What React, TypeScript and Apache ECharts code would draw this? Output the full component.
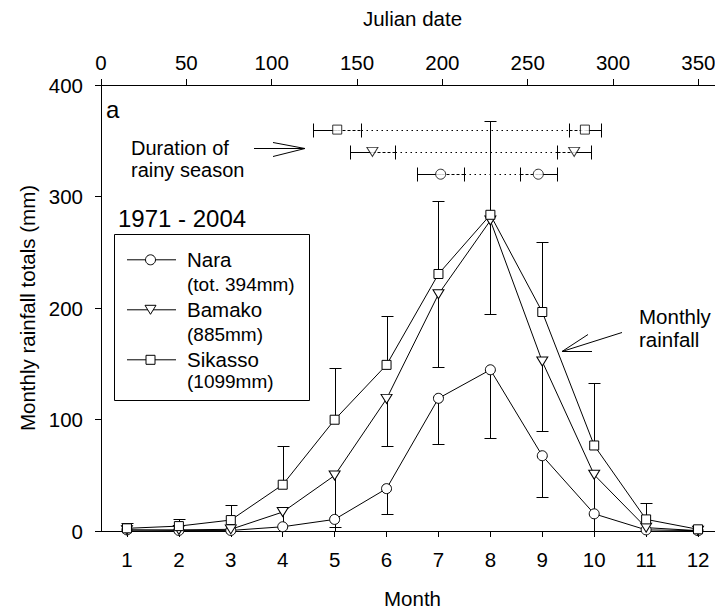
import React, { useEffect, useRef } from "react";
import * as echarts from "echarts";

// ---- data ----
const months = ["1", "2", "3", "4", "5", "6", "7", "8", "9", "10", "11", "12"];

const nara = [1, 0.5, 0.5, 3.8, 10.4, 38, 119, 144.6, 67.5, 15.4, 1, 0.3];
const naraLow = [null, null, null, -3, -4, 15, 78, 83, 30.5, -12, -2, null];

const bamako = [0.8, 1, 1.5, 17, 49.8, 118.5, 212.4, 278.5, 152, 50.4, 3, 0.3];
const bamakoLow = [null, null, -3, -5, 3.8, 75.8, 147, 195, 89.8, -8, -4, null];

const sikasso = [2.4, 4.4, 9.8, 41.5, 99.8, 149, 230.5, 283.6, 196.4, 76.7, 10.4, 1.5];
const sikassoHigh = [7.4, 11.2, 23.4, 75.8, 145.8, 192.6, 296.3, 367.7, 259, 133, 25, null];

// Rainy season duration (Julian dates)
const seasonNames = ["Sikasso", "Bamako", "Nara"];
const seasonLevel = [360, 340, 320];
const onsetMean = [138.4, 159, 199];
const onsetSd = [14.2, 13.3, 13.8];
const endMean = [283.5, 277.2, 256.2];
const endSd = [9.2, 10.1, 11];

const legendNames = ["Nara", "Bamako", "Sikasso"];
const legendTotals = ["(tot. 394mm)", "(885mm)", "(1099mm)"];
const periodLabel = "1971 - 2004";

const FONT = '"Liberation Sans", Arial, sans-serif';
const CHART_W = 724;
const CHART_H = 614;

function buildOption() {
  const errData: number[][] = [];
  const pushErr = (vals: number[], bounds: (number | null)[]) => {
    vals.forEach((v, i) => {
      const b = bounds[i];
      if (b !== null && b !== undefined) errData.push([i, v, b]);
    });
  };
  pushErr(nara, naraLow);
  pushErr(bamako, bamakoLow);
  pushErr(sikasso, sikassoHigh);

  const seasonData = seasonNames.map((_, i) => [
    onsetMean[i],
    onsetSd[i],
    endMean[i],
    endSd[i],
    seasonLevel[i],
  ]);

  const symbols: Record<string, { symbol: string; size: any; rotate: number }> = {
    Nara: { symbol: "circle", size: 10, rotate: 0 },
    Bamako: { symbol: "triangle", size: [11, 9], rotate: 180 },
    Sikasso: { symbol: "rect", size: 9, rotate: 0 },
  };

  const lineSeries = [
    { name: "Nara", data: nara },
    { name: "Bamako", data: bamako },
    { name: "Sikasso", data: sikasso },
  ].map((s) => ({
    type: "line",
    name: s.name,
    xAxisIndex: 0,
    yAxisIndex: 0,
    data: s.data,
    symbol: symbols[s.name].symbol,
    symbolSize: symbols[s.name].size,
    symbolRotate: symbols[s.name].rotate,
    showSymbol: true,
    showAllSymbol: true,
    lineStyle: { color: "#000", width: 1 },
    itemStyle: { color: "#fff", borderColor: "#000", borderWidth: 1 },
    emphasis: { disabled: true },
    silent: true,
    z: 3,
  }));

  const seasonMarkers = seasonNames.map((name, i) => ({
    type: "scatter",
    xAxisIndex: 1,
    yAxisIndex: 0,
    data: [
      [onsetMean[i], seasonLevel[i]],
      [endMean[i], seasonLevel[i]],
    ],
    symbol: symbols[name].symbol,
    symbolSize: symbols[name].size,
    symbolRotate: symbols[name].rotate,
    itemStyle: { color: "#fff", borderColor: "#000", borderWidth: 1 },
    emphasis: { disabled: true },
    silent: true,
    z: 4,
  }));

  const black = { stroke: "#000", lineWidth: 1 };

  const errSeries = {
    type: "custom",
    xAxisIndex: 0,
    yAxisIndex: 0,
    clip: true,
    silent: true,
    z: 1,
    data: errData,
    renderItem: (params: any, api: any) => {
      const x = api.value(0);
      const v = api.value(1);
      const b = api.value(2);
      const p1 = api.coord([x, v]);
      const p2 = api.coord([x, b]);
      const px = Math.round(p1[0]) + 0.5;
      const py = Math.round(p2[1]) + 0.5;
      return {
        type: "group",
        children: [
          { type: "line", shape: { x1: px, y1: p1[1], x2: px, y2: py }, style: black },
          { type: "line", shape: { x1: px - 6, y1: py, x2: px + 6, y2: py }, style: black },
        ],
      };
    },
  };

  const seasonSeries = {
    type: "custom",
    xAxisIndex: 1,
    yAxisIndex: 0,
    clip: true,
    silent: true,
    z: 2,
    encode: { x: [0, 2], y: 4 },
    data: seasonData,
    renderItem: (params: any, api: any) => {
      const o = api.value(0);
      const os = api.value(1);
      const e = api.value(2);
      const es = api.value(3);
      const y = api.value(4);
      const yy = Math.round(api.coord([o, y])[1]) + 0.5;
      const X = (d: number) => Math.round(api.coord([d, y])[0]) + 0.5;
      const a = X(o - os), b = X(o), c = X(o + os), d = X(e - es), f = X(e), g = X(e + es);
      const cap = (xx: number) => ({
        type: "line",
        shape: { x1: xx, y1: yy - 7, x2: xx, y2: yy + 7 },
        style: black,
      });
      return {
        type: "group",
        children: [
          { type: "line", shape: { x1: a, y1: yy, x2: b, y2: yy }, style: black },
          { type: "line", shape: { x1: b, y1: yy, x2: c, y2: yy }, style: { ...black, lineDash: [3, 2] } },
          { type: "line", shape: { x1: c, y1: yy, x2: d, y2: yy }, style: { ...black, lineDash: [1.5, 3.5] } },
          { type: "line", shape: { x1: d, y1: yy, x2: f, y2: yy }, style: { ...black, lineDash: [3, 2] } },
          { type: "line", shape: { x1: f, y1: yy, x2: g, y2: yy }, style: black },
          cap(a),
          cap(c),
          cap(d),
          cap(g),
        ],
      };
    },
  };

  const txt = (text: string, x: number, y: number, size: number, lineHeight?: number) => ({
    type: "text",
    x,
    y,
    silent: true,
    style: {
      text,
      fill: "#000",
      font: `${size}px ${FONT}`,
      lineHeight: lineHeight || size,
      textAlign: "left",
      textVerticalAlign: "middle",
      align: "left",
      verticalAlign: "middle",
    },
  });

  const legendRows = [259.3, 309.3, 359.3];
  const legendGraphics: any[] = [
    {
      type: "rect",
      silent: true,
      shape: { x: 114.5, y: 234.5, width: 195, height: 166 },
      style: { fill: "none", stroke: "#000", lineWidth: 1 },
    },
    txt(periodLabel, 118, 218, 24),
  ];
  legendNames.forEach((name, i) => {
    const cy = legendRows[i] + 0.5;
    legendGraphics.push({
      type: "line",
      silent: true,
      shape: { x1: 127, y1: cy, x2: 176, y2: cy },
      style: black,
    });
    if (name === "Nara") {
      legendGraphics.push({
        type: "circle",
        silent: true,
        shape: { cx: 150.5, cy, r: 5 },
        style: { fill: "#fff", stroke: "#000", lineWidth: 1 },
      });
    } else if (name === "Bamako") {
      legendGraphics.push({
        type: "polygon",
        silent: true,
        shape: { points: [[145, cy - 4.5], [156, cy - 4.5], [150.5, cy + 4.5]] },
        style: { fill: "#fff", stroke: "#000", lineWidth: 1 },
      });
    } else {
      legendGraphics.push({
        type: "rect",
        silent: true,
        shape: { x: 146, y: cy - 4.5, width: 9, height: 9 },
        style: { fill: "#fff", stroke: "#000", lineWidth: 1 },
      });
    }
    legendGraphics.push(txt(name, 187, legendRows[i], 20.5));
    legendGraphics.push(txt(legendTotals[i], 187, legendRows[i] + (i === 2 ? 22.5 : 25), 19));
  });

  const annotations: any[] = [
    txt("a", 106, 109, 24),
    txt("Duration of\nrainy season", 131, 159, 20, 22),
    {
      type: "line",
      silent: true,
      shape: { x1: 254, y1: 148.5, x2: 305, y2: 148.5 },
      style: black,
    },
    {
      type: "polyline",
      silent: true,
      shape: { points: [[273, 142.5], [305, 148.5], [273, 156.5]] },
      style: { ...black, fill: null },
    },
    txt("Monthly\nrainfall", 639, 327.5, 20.5, 23),
    {
      type: "line",
      silent: true,
      shape: { x1: 622, y1: 332.5, x2: 562, y2: 351.5 },
      style: black,
    },
    {
      type: "polyline",
      silent: true,
      shape: { points: [[588, 334.5], [562, 351.5], [592, 351.5]] },
      style: { ...black, fill: null },
    },
  ];

  const axisText = { color: "#000", fontSize: 20.5, fontFamily: FONT };

  return {
    animation: false,
    backgroundColor: "#fff",
    textStyle: { fontFamily: FONT, color: "#000" },
    grid: { left: 101, right: 0, top: 85, bottom: 79, containLabel: false },
    xAxis: [
      {
        type: "category",
        position: "bottom",
        data: months,
        boundaryGap: true,
        axisLine: { show: true, lineStyle: { color: "#000", width: 1 } },
        axisTick: { show: true, alignWithLabel: true, length: 6, inside: false, lineStyle: { color: "#000" } },
        axisLabel: { ...axisText, margin: 18, interval: 0 },
        splitLine: { show: false },
        name: "Month",
        nameLocation: "middle",
        nameGap: 57,
        nameTextStyle: { ...axisText },
      },
      {
        type: "value",
        position: "top",
        min: 0,
        max: 365,
        interval: 50,
        axisLine: { show: true, onZero: false, lineStyle: { color: "#000", width: 1 } },
        axisTick: { show: true, length: 6, inside: false, lineStyle: { color: "#000" } },
        axisLabel: {
          ...axisText,
          margin: 12,
          showMaxLabel: false,
          formatter: (v: number) => (v % 50 === 0 ? String(v) : ""),
        },
        splitLine: { show: false },
        name: "Julian date",
        nameLocation: "middle",
        nameGap: 56,
        nameTextStyle: { ...axisText },
      },
    ],
    yAxis: [
      {
        type: "value",
        min: 0,
        max: 400,
        interval: 100,
        axisLine: { show: true, onZero: false, lineStyle: { color: "#000", width: 1 } },
        axisTick: { show: true, length: 6, inside: false, lineStyle: { color: "#000" } },
        axisLabel: { ...axisText, margin: 18 },
        splitLine: { show: false },
        name: "Monthly rainfall totals (mm)",
        nameLocation: "middle",
        nameGap: 61,
        nameRotate: 90,
        nameTextStyle: { ...axisText },
      },
    ],
    series: [errSeries, seasonSeries, ...lineSeries, ...seasonMarkers],
    graphic: [...annotations, ...legendGraphics],
  };
}

export default function App() {
  const ref = useRef<HTMLDivElement>(null);
  useEffect(() => {
    document.body.style.margin = "0";
    if (!ref.current) return;
    const chart = echarts.init(ref.current, null, { renderer: "svg" });
    chart.setOption(buildOption() as any);
    return () => chart.dispose();
  }, []);
  return (
    <div
      style={{
        position: "absolute",
        left: 0,
        top: 0,
        width: 715,
        height: 614,
        overflow: "hidden",
        background: "#fff",
      }}
    >
      <div ref={ref} style={{ width: CHART_W, height: CHART_H }} />
    </div>
  );
}
